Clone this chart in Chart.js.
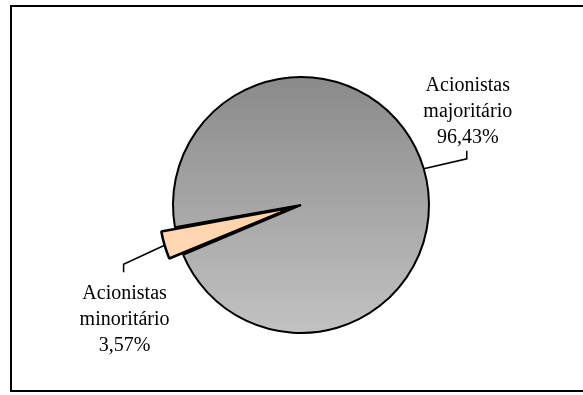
<!DOCTYPE html>
<html>
<head>
<meta charset="utf-8">
<script src="https://cdn.jsdelivr.net/npm/chart.js@4/dist/chart.umd.min.js"></script>
<style>
  html, body { margin: 0; padding: 0; background: #fff; }
  #wrap { width: 583px; height: 395px; position: relative; }
</style>
</head>
<body>
<div id="wrap"><canvas id="c"></canvas></div>
<script>
// Shareholder structure
const categories = ['Acionistas majoritário', 'Acionistas minoritário'];
const nameLines = [['Acionistas', 'majoritário'], ['Acionistas', 'minoritário']];
const shares = [96.43, 3.57];

const PIE_RADIUS = 128;
// leader line run from the slice edge to the elbow, per slice
const leaderRun = [[43, -10], [-41, 19]];
const TICK_LEN = 8;
const LINE_H = 26;

function fmtPct(v) {
  return v.toFixed(2).replace('.', ',') + '%';
}

// vertical gradient spanning the pie
function sliceFill(ctx) {
  const chart = ctx.chart;
  const area = chart.chartArea;
  if (!area) return ctx.dataIndex === 0 ? '#a6a6a6' : '#ffd2a6';
  const cy = (area.top + area.bottom) / 2;
  const g = chart.ctx.createLinearGradient(0, cy - PIE_RADIUS, 0, cy + PIE_RADIUS);
  if (ctx.dataIndex === 0) {
    g.addColorStop(0, '#8a8a8a');
    g.addColorStop(1, '#c2c2c2');
  } else {
    g.addColorStop(0, '#ffc48e');
    g.addColorStop(0.5, '#ffd2a8');
    g.addColorStop(1, '#ffe6cc');
  }
  return g;
}

const framePlugin = {
  id: 'frame',
  beforeDraw(chart) {
    const c = chart.ctx;
    c.save();
    c.fillStyle = '#fff';
    c.fillRect(0, 0, chart.width, chart.height);
    c.strokeStyle = '#000';
    c.lineWidth = 2;
    c.strokeRect(11, 6, chart.width + 20, chart.height - 10);
    c.restore();
  }
};

const labelPlugin = {
  id: 'sliceLabels',
  afterDatasetsDraw(chart) {
    const c = chart.ctx;
    const meta = chart.getDatasetMeta(0);
    c.save();
    c.strokeStyle = '#000';
    c.lineWidth = 1.5;
    c.fillStyle = '#000';
    c.font = '20px "Liberation Serif", "Times New Roman", serif';
    c.textAlign = 'center';
    c.textBaseline = 'alphabetic';
    meta.data.forEach((arc, i) => {
      const p = arc.getProps(['x', 'y', 'startAngle', 'endAngle', 'outerRadius'], true);
      const mid = (p.startAngle + p.endAngle) / 2;
      const span = p.endAngle - p.startAngle;
      const shift = (arc.options.offset || 0) / 4;
      const fix = 1 - Math.sin(Math.min(Math.PI, span));
      const edge = p.outerRadius + shift + shift * fix;
      const dx = Math.cos(mid), dy = Math.sin(mid);
      const sx = p.x + dx * edge, sy = p.y + dy * edge;
      const ex = sx + leaderRun[i][0], ey = sy + leaderRun[i][1];
      const down = dy > 0;
      const ty = ey + (down ? TICK_LEN : -TICK_LEN);
      c.beginPath();
      c.moveTo(sx, sy);
      c.lineTo(ex, ey);
      c.lineTo(ex, ty);
      c.stroke();
      const lines = nameLines[i].concat([fmtPct(shares[i])]);
      const tx = ex + 1;
      if (down) {
        const first = ty + 27;
        lines.forEach((t, k) => c.fillText(t, tx, first + k * LINE_H));
      } else {
        const last = ty - 8;
        lines.forEach((t, k) => c.fillText(t, tx, last - (lines.length - 1 - k) * LINE_H));
      }
    });
    c.restore();
  }
};

new Chart(document.getElementById('c'), {
  type: 'pie',
  data: {
    labels: categories,
    datasets: [{
      data: shares,
      backgroundColor: sliceFill,
      borderColor: '#000',
      borderWidth: [2, 2.5],
      offset: [0, 32]
    }]
  },
  options: {
    responsive: true,
    maintainAspectRatio: false,
    animation: false,
    rotation: 260,
    radius: PIE_RADIUS,
    layout: { padding: { left: 40, right: 21, top: 30, bottom: 15 } },
    plugins: {
      legend: { display: false },
      tooltip: { enabled: false }
    },
    events: []
  },
  plugins: [framePlugin, labelPlugin]
});
</script>
</body>
</html>
